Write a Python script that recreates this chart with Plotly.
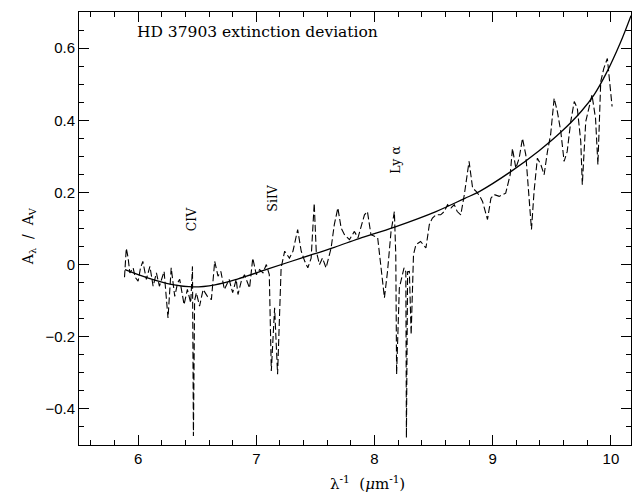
import plotly.graph_objects as go

# smooth fitted curve
fit_x = [5.89, 6.08, 6.28, 6.47, 6.65, 6.84, 7.10, 7.38, 7.66, 7.87, 8.17,
         8.52, 8.76, 8.89, 9.15, 9.39, 9.58, 9.75, 9.86, 9.96, 10.08, 10.17]
fit_y = [-0.014, -0.037, -0.055, -0.062, -0.056, -0.040, -0.012, 0.018, 0.048,
         0.072, 0.104, 0.147, 0.183, 0.203, 0.257, 0.315, 0.368, 0.425, 0.472,
         0.530, 0.615, 0.690]

# measured deviation (dashed)
dev_x = [5.885, 5.90, 5.915, 5.93, 5.958, 5.975, 6.0, 6.02, 6.04, 6.07, 6.10,
         6.127, 6.155, 6.18, 6.22, 6.253, 6.28, 6.31, 6.335, 6.352, 6.389,
         6.417, 6.445, 6.46, 6.468, 6.478, 6.493, 6.52, 6.55, 6.586, 6.62,
         6.648, 6.676, 6.70, 6.73, 6.77, 6.80, 6.83, 6.845, 6.873, 6.90, 6.943,
         6.97, 7.0, 7.028, 7.056, 7.085, 7.11, 7.127, 7.155, 7.18, 7.21, 7.24,
         7.28, 7.31, 7.35, 7.38, 7.41, 7.436, 7.464, 7.49, 7.507, 7.535, 7.56,
         7.59, 7.633, 7.66, 7.69, 7.718, 7.746, 7.788, 7.83, 7.86, 7.915, 7.94,
         7.97, 8.027, 8.056, 8.084, 8.11, 8.14, 8.168, 8.18, 8.187, 8.21, 8.25,
         8.265, 8.27, 8.28, 8.295, 8.31, 8.33, 8.35, 8.39, 8.435, 8.464, 8.49,
         8.52, 8.56, 8.59, 8.618, 8.647, 8.675, 8.70, 8.73, 8.76, 8.80, 8.83,
         8.86, 8.89, 8.914, 8.956, 8.985, 9.013, 9.055, 9.11, 9.148, 9.167,
         9.196, 9.224, 9.252, 9.28, 9.308, 9.328, 9.35, 9.378, 9.407, 9.435,
         9.463, 9.49, 9.52, 9.547, 9.576, 9.604, 9.63, 9.66, 9.69, 9.716, 9.745,
         9.758, 9.787, 9.814, 9.84, 9.87, 9.89, 9.914, 9.94, 9.97, 9.99, 10.01]
dev_y = [-0.035, 0.045, 0.02, -0.023, -0.009, -0.035, -0.046, -0.01, 0.009,
         -0.041, -0.005, -0.06, -0.023, -0.06, -0.019, -0.148, -0.009, -0.088,
         -0.05, -0.041, -0.111, -0.069, -0.106, -0.005, -0.475, -0.10, -0.078,
         -0.115, -0.069, -0.088, -0.097, 0.009, -0.032, -0.019, -0.069, -0.041,
         -0.078, -0.041, -0.083, -0.046, -0.028, -0.065, 0.018, -0.028, -0.014,
         -0.023, 0.0, -0.028, -0.295, -0.12, -0.304, -0.009, 0.037, 0.018,
         0.037, 0.097, 0.037, 0.009, -0.009, 0.018, 0.17, 0.037, 0.0, 0.018,
         -0.009, 0.046, 0.111, 0.157, 0.101, 0.083, 0.069, 0.092, 0.074, 0.138,
         0.147, 0.083, 0.074, -0.019, -0.092, -0.019, 0.092, 0.147, 0.028,
         -0.304, -0.065, -0.009, -0.02, -0.48, -0.02, -0.019, -0.194, 0.028,
         0.055, 0.064, 0.046, 0.111, 0.129, 0.138, 0.138, 0.147, 0.166, 0.157,
         0.166, 0.147, 0.138, 0.194, 0.286, 0.212, 0.203, 0.19, 0.175, 0.125,
         0.184, 0.194, 0.189, 0.198, 0.249, 0.322, 0.267, 0.295, 0.35, 0.304,
         0.194, 0.097, 0.203, 0.295, 0.277, 0.249, 0.313, 0.36, 0.461, 0.424,
         0.369, 0.286, 0.313, 0.396, 0.452, 0.433, 0.341, 0.221, 0.396, 0.433,
         0.47, 0.405, 0.277, 0.507, 0.544, 0.571, 0.507, 0.438]

# line labels: (text, x, y)
lines = [("CIV", 6.455, 0.128), ("SiIV", 7.14, 0.185), ("Ly α", 8.18, 0.29)]

serif = "DejaVu Serif"

fig = go.Figure()
fig.add_trace(go.Scatter(x=dev_x, y=dev_y, mode="lines",
                         line=dict(color="black", width=1.1, dash="7px,3px")))
fig.add_trace(go.Scatter(x=fit_x, y=fit_y, mode="lines",
                         line=dict(color="black", width=1.3, shape="spline")))

axis_common = dict(showline=True, linecolor="black", linewidth=1, mirror="ticks",
                   ticks="inside", tickcolor="black", ticklen=10, showgrid=False,
                   zeroline=False,
                   tickfont=dict(family="Liberation Sans", size=15, color="black"))

fig.update_xaxes(range=[5.5, 10.17], tick0=0, dtick=1,
                 minor=dict(ticks="inside", dtick=0.2, ticklen=5, tickcolor="black"),
                 **axis_common)
fig.update_yaxes(range=[-0.5, 0.7], tick0=0, dtick=0.2,
                 minor=dict(ticks="inside", dtick=0.05, ticklen=5, tickcolor="black"),
                 **axis_common)

fig.add_annotation(x=6.0, y=0.645, text="HD 37903 extinction deviation",
                   showarrow=False, xanchor="left", xshift=-3,
                   font=dict(family=serif, size=15.5, color="black"))
for txt, lx, ly in lines:
    fig.add_annotation(x=lx, y=ly, text=txt, textangle=-90, showarrow=False,
                       font=dict(family=serif, size=12.5, color="black"))

# axis titles
fig.add_annotation(xref="paper", yref="paper", x=0.522, y=-0.115,
                   text="λ<sup>-1</sup>  (<i>μ</i>m<sup>-1</sup>)", showarrow=False,
                   font=dict(family=serif, size=15, color="black"))
fig.add_annotation(xref="paper", yref="paper", x=-0.11, y=0.483,
                   text="A<sub>λ</sub>  /  A<sub>V</sub>", textangle=-90,
                   showarrow=False, font=dict(family=serif, size=14, color="black"))

fig.update_layout(width=636, height=503, showlegend=False,
                  margin=dict(l=79, r=5, t=12, b=58),
                  plot_bgcolor="white", paper_bgcolor="white")

fig.write_html("out.html", config={"displayModeBar": False},
               post_script="document.body.style.margin='0px';")
